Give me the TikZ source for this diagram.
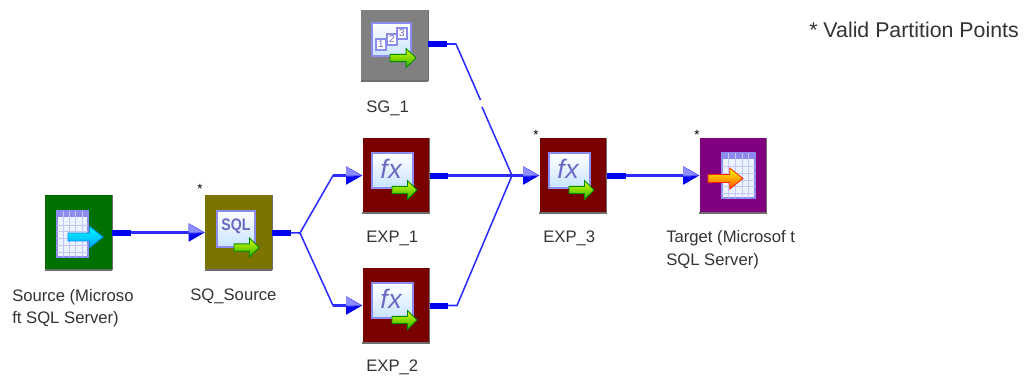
\documentclass[tikz,border=0pt]{standalone}
\usepackage{fontspec}
\setmainfont{Liberation Sans}
\usetikzlibrary{arrows.meta,calc}
\definecolor{wire}{HTML}{2C2CFF}
\definecolor{tip}{HTML}{0000F0}
\definecolor{tiplight}{HTML}{8C8CFF}
\definecolor{txt}{HTML}{333333}
\definecolor{edgegrey}{HTML}{6E6E6E}
\definecolor{tileedge}{HTML}{8C8CF0}
\definecolor{tiletext}{HTML}{6A6AC4}
\definecolor{tilelow}{HTML}{C8E4FF}
\tikzset{
  x=0.75pt,y=-0.75pt,
  tbox/.style={rectangle,draw=none,minimum width=50.25pt,minimum height=56pt,inner sep=0pt},
  lbl/.style={anchor=west,inner sep=0pt,text=txt,font=\fontsize{12.5}{14}\selectfont},
  starlbl/.style={inner sep=0pt,text=black,font=\fontsize{10}{12}\selectfont},
  wireline/.style={draw=wire,line width=1.15pt,line join=round},
  hwire/.style={draw=wire,line width=1.9pt},
  stub/.style={draw=tip,line width=4.5pt},
  arrowed/.style={wireline,-{Triangle[length=12pt,width=13.5pt,color=tip,fill=tip]}},
  tile/.style={draw=tileedge,line width=1pt,top color=white,bottom color=tilelow},
  gridl/.style={draw=tileedge!50,line width=0.4pt},
}
% icon arrow: left end x, y centre, length, half height
\newcommand{\iconarrow}[6]{%
  \begin{scope}[shift={(#1,#2)},xscale=#3,yscale=#4]
    \path[draw=#6,line width=0.6pt,line join=miter,left color=#5,right color=#6!80!#5,shading angle=0]
      (0,-0.38)--(0.62,-0.38)--(0.62,-1)--(1,0)--(0.62,1)--(0.62,0.38)--(0,0.38)--cycle;
  \end{scope}}
% raised box edge
\newcommand{\boxedge}[1]{%
  \draw[edgegrey,line width=1.3pt] (#1.south west)--(#1.south east);
  \draw[edgegrey,line width=0.5pt] (#1.south east)--(#1.north east);}
% half light tip
\newcommand{\tiptop}[1]{%
  \fill[tiplight] ($(#1.west)+(-16,-9)$)--($(#1.west)+(-1,0)$)--($(#1.west)+(-16,0)$)--cycle;}
% fx tile
\newcommand{\fxtile}[2]{%
  \begin{scope}[shift={(#1,#2)}]
    \path[tile] (9,15) rectangle (50,50);
    \node[inner sep=0pt,text=tiletext] at (28,31) {\fontsize{20}{20}\selectfont\itshape f\kern0.5pt x};
  \end{scope}
  \iconarrow{#1+29}{#2+52}{25}{9.5}{yellow!85!green}{green!55!black}}
% table tile
\newcommand{\tabletile}[4]{%
  \begin{scope}[shift={(#1,#2)}]
    \path[fill=tilelow!40,draw=tileedge,line width=1pt] (0,0) rectangle (#3,#4);
    \fill[tileedge] (0,0) rectangle (#3,6);
    \foreach \u in {0.2,0.4,0.6,0.8} \draw[gridl] ({#3*\u},0)--({#3*\u},#4);
    \foreach \u in {0.3,0.45,0.6,0.75,0.9} \draw[gridl] (0,{#4*\u})--(#3,{#4*\u});
  \end{scope}}
\begin{document}
\begin{tikzpicture}
\useasboundingbox (0,0) rectangle (1024,376);
\fill[white] (0,0) rectangle (1024,376);

% boxes
\node[tbox,fill={rgb,255:red,0;green,112;blue,0}] (src) at (78.5,232.5) {};
\node[tbox,fill={rgb,255:red,124;green,116;blue,0}] (sq) at (238.5,232.5) {};
\node[tbox,fill={rgb,255:red,128;green,128;blue,128},minimum height=53.25pt] (sg) at (394.5,45.5) {};
\node[tbox,fill={rgb,255:red,122;green,0;blue,0}] (e1) at (396,175.5) {};
\node[tbox,fill={rgb,255:red,122;green,0;blue,0}] (e2) at (396,305.5) {};
\node[tbox,fill={rgb,255:red,122;green,0;blue,0}] (e3) at (573,175.5) {};
\node[tbox,fill={rgb,255:red,128;green,0;blue,128}] (tg) at (733,175.5) {};
\boxedge{src}\boxedge{sq}\boxedge{sg}\boxedge{e1}\boxedge{e2}\boxedge{e3}\boxedge{tg}

% icons
\tabletile{57}{211}{31}{46}
\iconarrow{68}{237}{35}{10.5}{cyan}{blue!45!cyan}
\path[tile] (217,211) rectangle (255,247);
\node[inner sep=0pt,text=tiletext,xscale=0.85] (sqltext) at (236,226) {\fontsize{12.5}{13}\selectfont\bfseries SQL};
\iconarrow{234}{247.5}{25}{9.5}{yellow!85!green}{green!55!black}
\path[tile] (372,23) rectangle (411,56);
\foreach \a/\b/\c/\t in {376/39/10/1,387/34/10/2,397/28/10/3}{
  \path[fill=white,draw=tileedge,line width=0.8pt] (\a,\b) rectangle (\a+\c,\b+\c+1);
  \node[inner sep=0pt,text=tiletext] at (\a+5,\b+5.5) {\fontsize{7.5}{8}\selectfont\t};
}
\iconarrow{390}{58}{26}{9.5}{yellow!85!green}{green!55!black}
\fxtile{363}{138}
\fxtile{363}{268}
\fxtile{540}{138}
\tabletile{722}{153}{33}{45}
\iconarrow{708}{178.5}{35}{10.5}{yellow}{red!75!orange}

% labels
\node[lbl] (l1) at (12,297) {Source (Microso};
\node[lbl] (l1b) at (12,319) {ft SQL Server)};
\node[lbl] (l2) at (190,296) {SQ\_Source};
\node[lbl] (l3) at (366,108) {SG\_1};
\node[lbl] (l4) at (366,238) {EXP\_1};
\node[lbl] (l5) at (366,367) {EXP\_2};
\node[lbl] (l6) at (543,238) {EXP\_3};
\node[lbl] (l7) at (666,238) {Target (Microsof t};
\node[lbl] (l7b) at (666,261) {SQL Server)};
\node[lbl,font=\fontsize{16}{18}\selectfont] (title) at (809,30) {* Valid Partition Points};
\node[starlbl] (s1) at (200,189) {*};
\node[starlbl] (s2) at (536,135) {*};
\node[starlbl] (s3) at (697,135) {*};

% junctions
\coordinate (j1) at (300,233);
\coordinate (j1a) at (333,175.5);
\coordinate (j1b) at (333,305.5);
\coordinate (j2) at (512,175.5);
\coordinate (k1) at (456,44);
\coordinate (k1a) at (480.5,100);
\coordinate (k1b) at (482,107);
\coordinate (k2) at (457,305.5);

% connectors
\draw[arrowed] (src.east)--(sq.west);
\draw[wireline] (sq.east)--(j1);
\draw[arrowed] (j1)--(j1a)--(e1.west);
\draw[arrowed] (j1)--(j1b)--(e2.west);
\draw[wireline] ([yshift=1.1pt]sg.east)--(k1)--(k1a);
\draw[wireline] (k1b)--(j2);
\draw[wireline] (e1.east)--(j2);
\draw[wireline] (e2.east)--(k2)--(j2);
\draw[arrowed] (j2)--(e3.west);
\draw[arrowed] (e3.east)--(tg.west);

% horizontal runs, a little heavier
\draw[hwire] (src.east)--([xshift=-6pt]sq.west);
\draw[hwire] (e1.east)--(j2);
\draw[hwire] (j2)--([xshift=-6pt]e3.west);
\draw[hwire] (e3.east)--([xshift=-6pt]tg.west);
\draw[hwire] (j1a)--([xshift=-6pt]e1.west);
\draw[hwire] (j1b)--([xshift=-6pt]e2.west);
\tiptop{sq}\tiptop{e1}\tiptop{e2}\tiptop{e3}\tiptop{tg}

% stubs
\draw[stub] (src.east)--++(19,0);
\draw[stub] (sq.east)--++(19,0);
\draw[stub] ([yshift=1.1pt]sg.east)--++(19,0);
\draw[stub] (e1.east)--++(18,0);
\draw[stub] (e2.east)--++(18,0);
\draw[stub] (e3.east)--++(19,0);
\end{tikzpicture}
\end{document}
